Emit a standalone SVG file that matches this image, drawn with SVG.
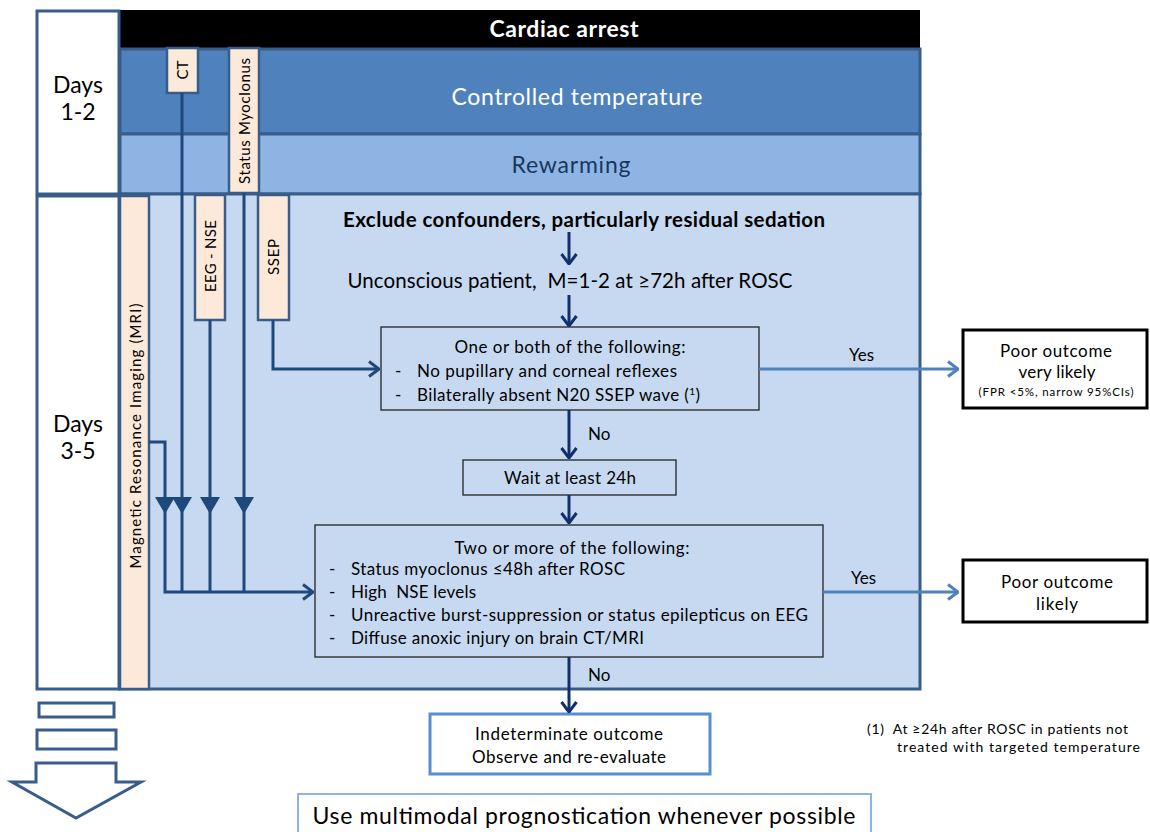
<svg xmlns="http://www.w3.org/2000/svg" width="1150" height="832" viewBox="0 0 1150 832">
<style>
text{font-family:Lato,"Liberation Sans",sans-serif;fill:#000}
.band{stroke:#385D8A;stroke-width:3}
.days{fill:#fff;stroke:#385D8A;stroke-width:3}
.peach{fill:#FDE9D9;stroke:#385D8A;stroke-width:2.5}
.box{fill:none;stroke:#222;stroke-width:1.3}
.out{fill:#fff;stroke:#000;stroke-width:3}
.side{fill:none;stroke:#1F497D;stroke-width:3}
.main{fill:none;stroke:#10306B;stroke-width:3}
.yes{fill:none;stroke:#4F81BD;stroke-width:3}
.t16{font-size:17px}
.t19{font-size:20.5px}
.t22{font-size:23px}
.vt{font-size:15px}
</style>
<defs>
<marker id="chevMain" viewBox="0 0 12 18" refX="11" refY="9" markerWidth="12" markerHeight="18" markerUnits="userSpaceOnUse" orient="auto"><path d="M1,1.5 L11,9 L1,16.5" fill="none" stroke="#10306B" stroke-width="3"/></marker>
<marker id="chevSide" viewBox="0 0 12 18" refX="11" refY="9" markerWidth="12" markerHeight="18" markerUnits="userSpaceOnUse" orient="auto"><path d="M1,1.5 L11,9 L1,16.5" fill="none" stroke="#1F497D" stroke-width="3"/></marker>
<marker id="chevYes" viewBox="0 0 12 18" refX="11" refY="9" markerWidth="12" markerHeight="18" markerUnits="userSpaceOnUse" orient="auto"><path d="M1,1.5 L11,9 L1,16.5" fill="none" stroke="#4F81BD" stroke-width="3"/></marker>
<path id="tri" d="M-10,0 L10,0 L0,17 Z" fill="#1F497D"/>
</defs>

<g id="phases">
<rect x="120" y="10" width="800" height="39" fill="#000"/>
<text x="564" y="37" text-anchor="middle" class="t22" font-weight="bold" style="fill:#fff" textLength="149">Cardiac arrest</text>
<rect class="band" x="120" y="49" width="800" height="85" fill="#4F81BD"/>
<text x="577" y="105" text-anchor="middle" class="t22" style="fill:#fff" textLength="251">Controlled temperature</text>
<rect class="band" x="120" y="134" width="800" height="60" fill="#8EB4E3"/>
<text x="571" y="173" text-anchor="middle" class="t22" style="fill:#17375E" textLength="119">Rewarming</text>
<rect class="band" x="120" y="194" width="800" height="495" fill="#C6D9F1"/>
</g>

<g id="days12">
<rect class="days" x="37" y="11" width="82" height="183"/>
<text x="78" y="93" text-anchor="middle" class="t22">Days</text>
<text x="78" y="120" text-anchor="middle" class="t22">1-2</text>
</g>
<g id="days35">
<rect class="days" x="37" y="196" width="82" height="493"/>
<text x="78" y="432" text-anchor="middle" class="t22">Days</text>
<text x="78" y="459" text-anchor="middle" class="t22">3-5</text>
</g>

<g id="mri">
<rect class="peach" x="120" y="196" width="29" height="493"/>
<text transform="translate(135,436) rotate(-90)" text-anchor="middle" dominant-baseline="central" class="vt" textLength="265">Magnetic Resonance Imaging (MRI)</text>
</g>
<g id="ct">
<rect class="peach" x="167" y="48" width="31" height="45"/>
<text transform="translate(182,70) rotate(-90)" text-anchor="middle" dominant-baseline="central" class="vt">CT</text>
</g>
<g id="status-myoclonus">
<rect class="peach" x="229" y="48" width="30" height="145"/>
<text transform="translate(244,121) rotate(-90)" text-anchor="middle" dominant-baseline="central" class="vt" textLength="126">Status Myoclonus</text>
</g>
<g id="eeg-nse">
<rect class="peach" x="195" y="195" width="30" height="125"/>
<text transform="translate(210,256) rotate(-90)" text-anchor="middle" dominant-baseline="central" class="vt" textLength="72" xml:space="preserve">EEG - NSE</text>
</g>
<g id="ssep">
<rect class="peach" x="258" y="195" width="31" height="125"/>
<text transform="translate(273,257) rotate(-90)" text-anchor="middle" dominant-baseline="central" class="vt" textLength="36">SSEP</text>
</g>

<g id="exclude">
<text x="584" y="227" text-anchor="middle" class="t19" font-weight="bold" textLength="482">Exclude confounders, particularly residual sedation</text>
</g>
<g id="unconscious">
<text x="570" y="288" text-anchor="middle" class="t19" textLength="445" xml:space="preserve">Unconscious patient,  M=1-2 at ≥72h after ROSC</text>
</g>

<g id="box1">
<rect class="box" x="381" y="327" width="378" height="83"/>
<text x="570" y="353" text-anchor="middle" class="t16" textLength="231">One or both of the following:</text>
<text x="395" y="377" class="t16">-</text>
<text x="417" y="377" class="t16" textLength="260">No pupillary and corneal reflexes</text>
<text x="395" y="401" class="t16">-</text>
<text x="417" y="401" class="t16" textLength="283">Bilaterally absent N20 SSEP wave (<tspan font-size="10" dy="-6">1</tspan><tspan dy="6">)</tspan></text>
</g>

<g id="wait">
<rect class="box" x="463" y="460" width="213" height="35"/>
<text x="570" y="484" text-anchor="middle" class="t16" textLength="132">Wait at least 24h</text>
</g>

<g id="box2">
<rect class="box" x="315" y="525" width="508" height="132"/>
<text x="572" y="554" text-anchor="middle" class="t16" textLength="235">Two or more of the following:</text>
<text x="329" y="575" class="t16">-</text>
<text x="351" y="575" class="t16" textLength="274">Status myoclonus ≤48h after ROSC</text>
<text x="329" y="598" class="t16">-</text>
<text x="351" y="598" class="t16" textLength="125" xml:space="preserve">High  NSE levels</text>
<text x="329" y="621" class="t16">-</text>
<text x="351" y="621" class="t16" textLength="457">Unreactive burst-suppression or status epilepticus on EEG</text>
<text x="329" y="644" class="t16">-</text>
<text x="351" y="644" class="t16" textLength="293">Diffuse anoxic injury on brain CT/MRI</text>
</g>

<g id="poor-very-likely">
<rect class="out" x="963" y="330" width="184" height="78"/>
<text x="1056" y="357" text-anchor="middle" class="t16" textLength="112">Poor outcome</text>
<text x="1057" y="378" text-anchor="middle" class="t16" textLength="77">very likely</text>
<text x="1056" y="396" text-anchor="middle" font-size="11.5" textLength="155">(FPR &lt;5%, narrow 95%CIs)</text>
</g>
<g id="poor-likely">
<rect class="out" x="963" y="560" width="184" height="62"/>
<text x="1057" y="588" text-anchor="middle" class="t16" textLength="112">Poor outcome</text>
<text x="1057" y="610" text-anchor="middle" class="t16" textLength="42">likely</text>
</g>

<g id="indeterminate">
<rect x="430" y="714" width="280" height="60" fill="#fff" stroke="#558ED5" stroke-width="3"/>
<text x="569" y="740" text-anchor="middle" class="t16" textLength="188">Indeterminate outcome</text>
<text x="569" y="763" text-anchor="middle" class="t16" textLength="194">Observe and re-evaluate</text>
</g>
<g id="multimodal">
<rect x="298" y="794" width="573" height="45" fill="#fff" stroke="#8EB4E3" stroke-width="2"/>
<text x="584" y="824" text-anchor="middle" font-size="23" textLength="543">Use multimodal prognostication whenever possible</text>
</g>

<g id="footnote">
<text x="867" y="734" font-size="14" textLength="261" xml:space="preserve">(1)  At ≥24h after ROSC in patients not</text>
<text x="897" y="752" font-size="14" textLength="243">treated with targeted temperature</text>
</g>

<g id="time-arrow">
<rect x="39" y="703" width="75" height="14" fill="#fff" stroke="#385D8A" stroke-width="3"/>
<rect x="37" y="730" width="79" height="19" fill="#fff" stroke="#385D8A" stroke-width="3"/>
<path d="M36,763 H116 V782 H141 L76,818 L12,782 H36 Z" fill="#fff" stroke="#385D8A" stroke-width="3" stroke-linejoin="miter"/>
</g>

<g id="connectors">
<path class="side" d="M182,93 V592"/>
<path class="side" d="M210,320 V592"/>
<path class="side" d="M244,193 V592"/>
<path class="side" d="M149,442 H165 V592 H313" marker-end="url(#chevSide)"/>
<path class="side" d="M273,320 V369 H379" marker-end="url(#chevSide)"/>
<use href="#tri" x="165" y="497"/>
<use href="#tri" x="182" y="497"/>
<use href="#tri" x="210" y="497"/>
<use href="#tri" x="244" y="497"/>
<path class="main" d="M569,232 V264" marker-end="url(#chevMain)"/>
<path class="main" d="M569,295 V326" marker-end="url(#chevMain)"/>
<path class="main" d="M569,410 V458" marker-end="url(#chevMain)"/>
<path class="main" d="M569,495 V523" marker-end="url(#chevMain)"/>
<path class="main" d="M569,657 V712" marker-end="url(#chevMain)"/>
<path class="yes" d="M759,369 H958" marker-end="url(#chevYes)"/>
<path class="yes" d="M823,592 H958" marker-end="url(#chevYes)"/>
<text x="588" y="440" class="t16">No</text>
<text x="588" y="681" class="t16">No</text>
<text x="849" y="361" class="t16" textLength="25">Yes</text>
<text x="851" y="584" class="t16" textLength="25">Yes</text>
</g>
</svg>
